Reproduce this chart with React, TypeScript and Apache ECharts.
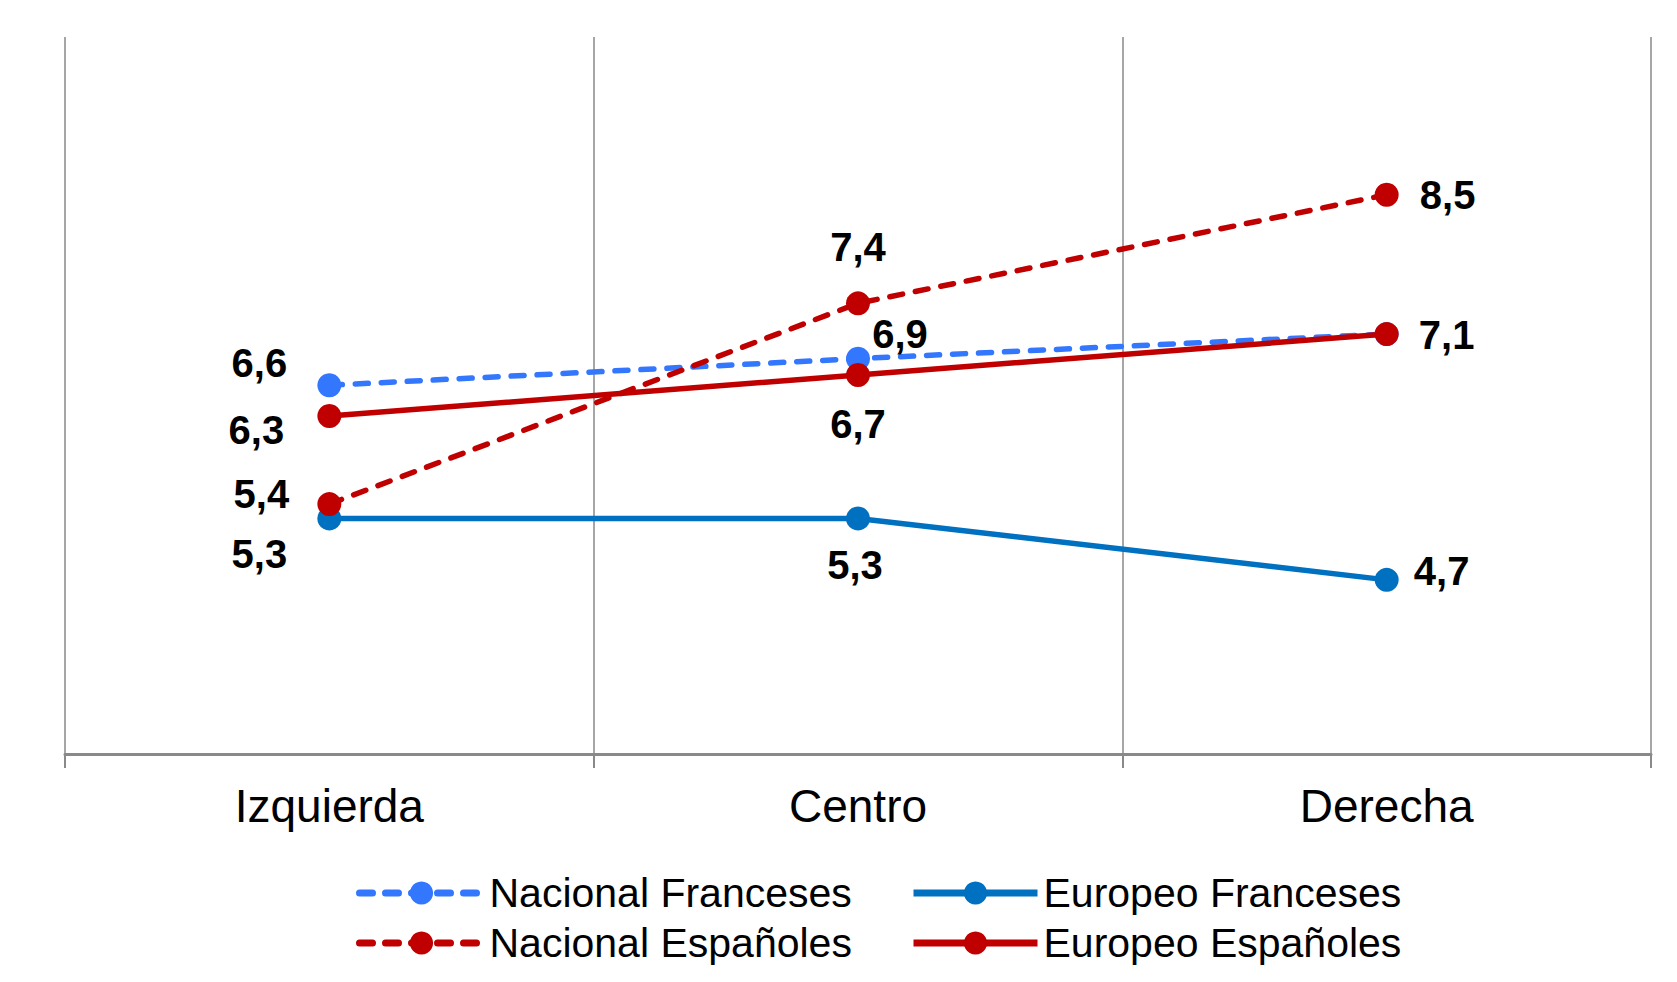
import React, { useEffect, useRef } from "react";
import * as echarts from "echarts";

const categories = ["Izquierda", "Centro", "Derecha"];
const seriesNames = ["Nacional Franceses", "Europeo Franceses", "Nacional Españoles", "Europeo Españoles"];
const nacionalFranceses = [6.6, 6.86, 7.1];
const europeoFranceses = [5.3, 5.3, 4.7];
const nacionalEspanoles = [5.44, 7.4, 8.46];
const europeoEspanoles = [6.3, 6.7, 7.1];

// label offsets per point [dx, dy]; null = hidden
const offsetsNF: ([number, number] | null)[] = [[-70, -22], [42, -25], null];
const offsetsEF: ([number, number] | null)[] = [[-70, 36], [-3, 47], [55, -9]];
const offsetsNE: ([number, number] | null)[] = [[-68, -10], [0, -56], [61, 0]];
const offsetsEE: ([number, number] | null)[] = [[-73, 14], [0, 49], [60, 1]];

const FONT = "'Liberation Sans', Arial, sans-serif";

function buildData(values: number[], offsets: ([number, number] | null)[]) {
  return values.map((v, i) => {
    const off = offsets[i];
    return {
      value: v,
      label: off
        ? { show: true, position: "inside", offset: off }
        : { show: false },
    };
  });
}

function makeSeries(name: string, values: number[], offsets: ([number, number] | null)[], color: string, dashed: boolean, z: number) {
  return {
    name,
    type: "line",
    data: buildData(values, offsets),
    symbol: "circle",
    symbolSize: 24,
    z,
    itemStyle: { color },
    lineStyle: {
      color,
      width: 5.5,
      type: dashed ? [13, 13] : "solid",
      cap: dashed ? "round" : "butt",
    },
    label: {
      show: true,
      color: "#000",
      fontFamily: FONT,
      fontWeight: "bold",
      fontSize: 40,
      align: "center",
      verticalAlign: "middle",
      formatter: (p: any) => Number(p.value).toFixed(1).replace(".", ","),
    },
  };
}

function makeLegend(name: string, left: number, top: number) {
  return {
    data: [name],
    left,
    top,
    padding: 0,
    itemWidth: 124,
    itemHeight: 29,
    selectedMode: false,
    lineStyle: { width: 7 },
    textStyle: {
      fontFamily: FONT,
      fontSize: 41,
      lineHeight: 44,
      color: "#000",
      padding: [0, 0, 0, 1],
    },
  };
}

export default function App() {
  const ref = useRef<HTMLDivElement>(null);
  useEffect(() => {
    if (!ref.current) return;
    const chart = echarts.init(ref.current, undefined, { renderer: "svg" });
    chart.setOption({
      animation: false,
      backgroundColor: "#fff",
      grid: { left: 65, right: 26, top: 37, bottom: 228 },
      xAxis: {
        type: "category",
        data: categories,
        boundaryGap: true,
        axisLine: { show: true, lineStyle: { color: "#898989", width: 3 } },
        axisTick: { show: true, length: 14, lineStyle: { color: "#898989", width: 2 } },
        splitLine: { show: true, lineStyle: { color: "#898989", width: 1.5 } },
        axisLabel: {
          fontFamily: FONT,
          fontSize: 46,
          color: "#000",
          margin: 29,
        },
      },
      yAxis: {
        type: "value",
        min: 3,
        max: 10,
        show: false,
        splitLine: { show: false },
      },
      legend: [
        makeLegend(seriesNames[0], 356, 871),
        makeLegend(seriesNames[1], 910, 871),
        makeLegend(seriesNames[2], 356, 921),
        makeLegend(seriesNames[3], 910, 921),
      ],
      series: [
        makeSeries(seriesNames[0], nacionalFranceses, offsetsNF, "#3377FF", true, 2),
        makeSeries(seriesNames[1], europeoFranceses, offsetsEF, "#0070C0", false, 3),
        makeSeries(seriesNames[2], nacionalEspanoles, offsetsNE, "#C00000", true, 4),
        makeSeries(seriesNames[3], europeoEspanoles, offsetsEE, "#C00000", false, 5),
      ],
    });
    return () => chart.dispose();
  }, []);
  return (
    <div
      ref={ref}
      style={{ position: "fixed", left: 0, top: 0, width: 1677, height: 982, background: "#fff" }}
    />
  );
}
